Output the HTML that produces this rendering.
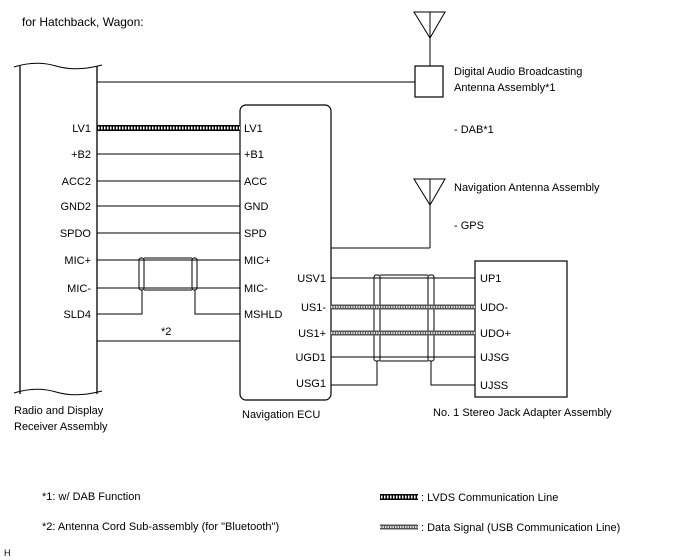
<!DOCTYPE html>
<html><head><style>
body{margin:0;background:#fff;}
svg{display:block;}
text{font-family:"Liberation Sans",Arial,sans-serif;font-size:11px;fill:#000;}
</style></head><body>
<svg width="688" height="560" viewBox="0 0 688 560" xmlns="http://www.w3.org/2000/svg">
<g stroke="#000" fill="none" stroke-width="1">
<!-- Radio block -->
<line x1="20" y1="66" x2="20" y2="394" stroke-width="1.3"/>
<line x1="97" y1="66" x2="97" y2="394" stroke-width="1.3"/>
<path d="M14 67 Q36 60 56 66 T102 65"/>
<path d="M14 393 Q36 386 56 392 T102 391"/>
<!-- top line to DAB -->
<line x1="97" y1="82" x2="415" y2="82"/>
<rect x="415" y="66" width="28" height="31" stroke-width="1.2"/>
<path d="M414 12 L445 12 L430 38 Z"/>
<line x1="430" y1="12" x2="430" y2="66"/>
<!-- Nav antenna -->
<path d="M414 179 L445 179 L430 205 Z"/>
<line x1="430" y1="179" x2="430" y2="248"/>
<line x1="331" y1="248" x2="430" y2="248"/>
<!-- ECU -->
<rect x="240" y="105" width="91" height="295" rx="6" stroke-width="1.2"/>
<!-- adapter -->
<rect x="475" y="261" width="92" height="136" stroke-width="1.2"/>
<!-- left wires -->
<line x1="97" y1="154" x2="240" y2="154"/>
<line x1="97" y1="181" x2="240" y2="181"/>
<line x1="97" y1="206" x2="240" y2="206"/>
<line x1="97" y1="233" x2="240" y2="233"/>
<line x1="97" y1="260" x2="240" y2="260"/>
<line x1="97" y1="288" x2="240" y2="288"/>
<line x1="97" y1="341" x2="240" y2="341"/>
<path d="M97 314 H142 V290"/>
<path d="M240 314 H195 V290"/>
<rect x="139" y="258" width="5" height="32" rx="2"/>
<rect x="192" y="258" width="5" height="32" rx="2"/>
<line x1="144" y1="258" x2="192" y2="258"/>
<line x1="144" y1="290" x2="192" y2="290"/>
<!-- right wires -->
<line x1="331" y1="278" x2="475" y2="278"/>
<line x1="331" y1="357" x2="475" y2="357"/>
<path d="M331 385 H377 V361"/>
<path d="M475 385 H431 V361"/>
<rect x="374" y="275" width="6" height="86" rx="2"/>
<rect x="428" y="275" width="6" height="86" rx="2"/>
<line x1="380" y1="275" x2="428" y2="275"/>
<line x1="380" y1="361" x2="428" y2="361"/>
</g>
<!-- LVDS -->
<line x1="97" y1="128" x2="240" y2="128" stroke="#000" stroke-width="6"/>
<line x1="98" y1="128" x2="240" y2="128" stroke="#fff" stroke-width="3" stroke-dasharray="1.5 1.5"/>
<!-- USB data lines -->
<g>
<line x1="331" y1="307" x2="475" y2="307" stroke="#555" stroke-width="5"/>
<line x1="331" y1="307" x2="475" y2="307" stroke="#ddd" stroke-width="2" stroke-dasharray="1.5 1"/>
<line x1="331" y1="333" x2="475" y2="333" stroke="#555" stroke-width="5"/>
<line x1="331" y1="333" x2="475" y2="333" stroke="#ddd" stroke-width="2" stroke-dasharray="1.5 1"/>
<line x1="380" y1="497" x2="418" y2="497" stroke="#000" stroke-width="6"/>
<line x1="381" y1="497" x2="418" y2="497" stroke="#fff" stroke-width="3" stroke-dasharray="1.5 1.5"/>
<line x1="380" y1="527" x2="418" y2="527" stroke="#555" stroke-width="5"/>
<line x1="380" y1="527" x2="418" y2="527" stroke="#ddd" stroke-width="2" stroke-dasharray="1.5 1"/>
</g>
<!-- text -->
<text x="22" y="26" style="font-size:12px">for Hatchback, Wagon:</text>
<g text-anchor="end">
<text x="91" y="132">LV1</text>
<text x="91" y="158">+B2</text>
<text x="91" y="185">ACC2</text>
<text x="91" y="210">GND2</text>
<text x="91" y="237">SPDO</text>
<text x="91" y="264">MIC+</text>
<text x="91" y="292">MIC-</text>
<text x="91" y="318">SLD4</text>
<text x="326" y="282">USV1</text>
<text x="326" y="311">US1-</text>
<text x="326" y="337">US1+</text>
<text x="326" y="361">UGD1</text>
<text x="326" y="387">USG1</text>
</g>
<text x="244" y="132">LV1</text>
<text x="244" y="158">+B1</text>
<text x="244" y="185">ACC</text>
<text x="244" y="210">GND</text>
<text x="244" y="237">SPD</text>
<text x="244" y="264">MIC+</text>
<text x="244" y="292">MIC-</text>
<text x="244" y="318">MSHLD</text>
<text x="161" y="335">*2</text>
<text x="480" y="282">UP1</text>
<text x="480" y="311">UDO-</text>
<text x="480" y="337">UDO+</text>
<text x="480" y="361">UJSG</text>
<text x="480" y="389">UJSS</text>
<text x="454" y="75">Digital Audio Broadcasting</text>
<text x="454" y="91">Antenna Assembly*1</text>
<text x="454" y="133">- DAB*1</text>
<text x="454" y="191">Navigation Antenna Assembly</text>
<text x="454" y="229">- GPS</text>
<text x="14" y="414">Radio and Display</text>
<text x="14" y="430">Receiver Assembly</text>
<text x="242" y="418">Navigation ECU</text>
<text x="433" y="416">No. 1 Stereo Jack Adapter Assembly</text>
<text x="42" y="500">*1: w/ DAB Function</text>
<text x="42" y="530">*2: Antenna Cord Sub-assembly (for "Bluetooth")</text>
<text x="421" y="501">: LVDS Communication Line</text>
<text x="421" y="531">: Data Signal (USB Communication Line)</text>
<text x="4" y="556" style="font-size:9px">H</text>
</svg>
</body></html>
